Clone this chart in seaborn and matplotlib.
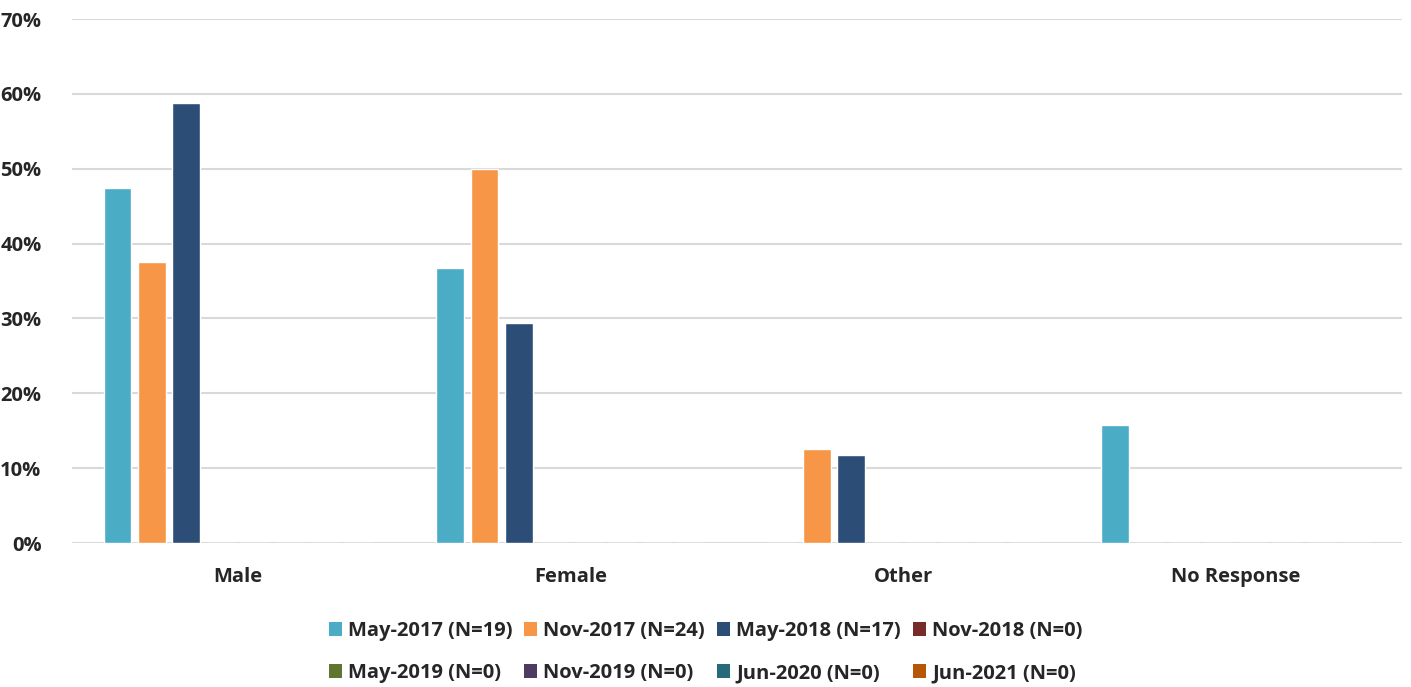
import matplotlib
matplotlib.use("Agg")
import matplotlib.pyplot as plt
import seaborn as sns
import pandas as pd
import numpy as np
from matplotlib.ticker import PercentFormatter
from matplotlib.patches import Patch

categories = ["Male", "Female", "Other", "No Response"]
series = ["May-2017 (N=19)", "Nov-2017 (N=24)", "May-2018 (N=17)", "Nov-2018 (N=0)",
          "May-2019 (N=0)", "Nov-2019 (N=0)", "Jun-2020 (N=0)", "Jun-2021 (N=0)"]
may2017 = [47.4, 36.8, 0.0, 15.8]
nov2017 = [37.5, 50.0, 12.5, 0.0]
may2018 = [58.8, 29.4, 11.8, 0.0]
nov2018 = [0, 0, 0, 0]
may2019 = [0, 0, 0, 0]
nov2019 = [0, 0, 0, 0]
jun2020 = [0, 0, 0, 0]
jun2021 = [0, 0, 0, 0]
colors = ["#4BACC6", "#F79646", "#2C4D75", "#772C2A", "#5F7530", "#4D3B62", "#276A7C", "#B65708"]

vals = [may2017, nov2017, may2018, nov2018, may2019, nov2019, jun2020, jun2021]
rows = []
for s, v in zip(series, vals):
    for c, x in zip(categories, v):
        rows.append({"cat": c, "series": s, "val": x})
df = pd.DataFrame(rows)

sns.set_style("white")
plt.rcParams['font.family'] = ['Open Sans', 'DejaVu Sans']

fig = plt.figure(figsize=(14.11, 6.87), dpi=100)
ax = fig.add_axes([0.051, 0.2096, 0.9426, 0.7627])
sns.barplot(data=df, x="cat", y="val", hue="series", hue_order=series, order=categories,
            palette=colors, width=0.83, gap=0.19, ax=ax, legend=False, errorbar=None,
            saturation=1)
ax.set_ylim(0, 70)
ax.set_yticks(np.arange(0, 71, 10))
ax.yaxis.set_major_formatter(PercentFormatter(decimals=0))
ax.set_xlim(-0.5, 3.5)
ax.grid(axis="y", color="#d9d9d9", linewidth=1.5)
ax.set_axisbelow(True)
for sp in ax.spines.values():
    sp.set_visible(False)
ax.set_xlabel("")
ax.set_ylabel("")
ax.tick_params(axis="both", length=0, labelsize=14.5)
ax.tick_params(axis="y", pad=22)
ax.tick_params(axis="x", pad=17)
for lab in ax.get_xticklabels() + ax.get_yticklabels():
    lab.set_fontweight("bold")

# row-major ordering for a 2x4 legend (matplotlib fills column-major)
order = [0, 4, 1, 5, 2, 6, 3, 7]
handles = [Patch(facecolor=colors[i], edgecolor="none") for i in order]
labels = [series[i] for i in order]
fig.legend(handles, labels, loc="center", bbox_to_anchor=(0.5, 0.051), ncol=4, frameon=False,
           prop={"weight": "bold", "size": 14.5}, handlelength=0.65, handleheight=0.65,
           handletextpad=0.3, columnspacing=0.6, labelspacing=1.1)
fig.savefig("out.png", dpi=100)
